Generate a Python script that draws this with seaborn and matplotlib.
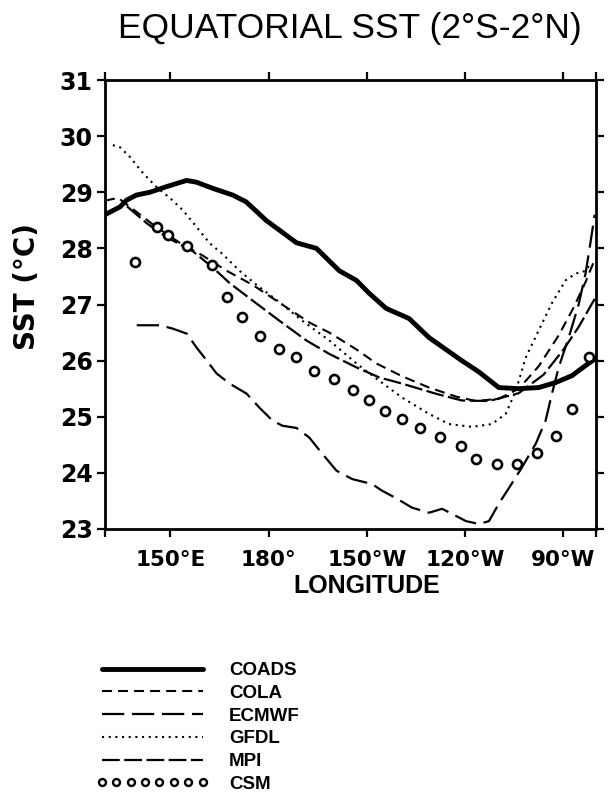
import matplotlib
matplotlib.use("Agg")
import matplotlib.pyplot as plt
import seaborn as sns

# Equatorial SST (2S-2N) along the Pacific, longitude in degrees east
coads_lon = [130.0, 134.6, 136.6, 139.6, 143.7, 148.8, 154.9, 157.9, 162.9, 169.0, 173.1,
             179.2, 188.5, 194.6, 201.6, 206.8, 210.7, 215.9, 222.9, 229.0, 239.0, 244.2,
             250.3, 256.4, 262.5, 267.7, 272.6, 277.7, 280.0]
coads_sst = [28.6, 28.74, 28.86, 28.95, 29.0, 29.1, 29.21, 29.18, 29.07, 28.95, 28.83,
             28.5, 28.1, 28.0, 27.6, 27.43, 27.2, 26.93, 26.75, 26.41, 26.0, 25.8,
             25.52, 25.5, 25.52, 25.61, 25.73, 25.95, 26.04]

cola_lon = [130.0, 134.0, 138.5, 145.2, 152.8, 159.9, 167.2, 175.1, 185.4, 192.4, 198.5,
            206.8, 212.9, 220.8, 229.0, 237.2, 243.3, 250.3, 256.4, 262.5, 268.6, 273.2,
            276.8, 279.6]
cola_sst = [28.85, 28.9, 28.7, 28.4, 28.1, 27.87, 27.6, 27.35, 26.95, 26.68, 26.5,
            26.2, 25.95, 25.72, 25.52, 25.36, 25.28, 25.32, 25.5, 25.9, 26.45, 26.95,
            27.4, 27.8]

ecmwf_lon = [139.7, 146.8, 150.7, 155.0, 158.0, 161.1, 164.1, 168.1, 173.3, 177.2, 181.2,
             184.2, 188.5, 192.4, 196.4, 200.7, 205.5, 211.6, 214.7, 218.9, 223.8, 229.0,
             233.0, 236.0, 240.3, 244.2, 247.3, 250.3, 253.4, 257.3, 261.6, 264.6, 266.5,
             268.6, 271.6, 274.7, 276.8, 278.3, 279.6]
ecmwf_sst = [26.63, 26.63, 26.57, 26.48, 26.23, 26.0, 25.77, 25.59, 25.41, 25.16, 24.93,
             24.84, 24.8, 24.63, 24.34, 24.04, 23.89, 23.8, 23.68, 23.55, 23.38, 23.29,
             23.36, 23.27, 23.14, 23.09, 23.14, 23.45, 23.73, 24.09, 24.52, 24.93, 25.4,
             25.88, 26.4, 27.0, 27.55, 28.1, 28.6]

gfdl_lon = [132.4, 134.6, 137.6, 141.6, 145.8, 149.8, 153.8, 158.0, 162.0, 165.9, 171.1,
            176.3, 183.3, 190.3, 198.5, 206.8, 213.8, 220.8, 229.0, 235.1, 242.1, 248.2,
            252.4, 255.5, 258.5, 262.5, 266.5, 270.7, 273.8, 276.8, 278.6]
gfdl_sst = [29.84, 29.8, 29.63, 29.34, 29.09, 28.9, 28.68, 28.38, 28.09, 27.9, 27.6,
            27.35, 27.04, 26.71, 26.36, 25.95, 25.64, 25.34, 25.05, 24.87, 24.82, 24.87,
            25.05, 25.46, 26.05, 26.54, 27.02, 27.43, 27.55, 27.6, 27.75]

mpi_lon = [136.7, 142.7, 148.8, 156.8, 162.9, 168.1, 175.1, 183.3, 191.5, 198.5, 206.8,
           213.8, 220.8, 231.1, 239.0, 247.3, 256.4, 264.0, 270.1, 274.7, 279.6]
mpi_sst = [28.75, 28.45, 28.2, 27.95, 27.66, 27.38, 27.07, 26.71, 26.36, 26.12, 25.88,
           25.7, 25.59, 25.41, 25.29, 25.28, 25.42, 25.75, 26.2, 26.6, 27.1]

csm_lon = [139.1, 145.8, 149.2, 155.0, 162.6, 167.2, 172.0, 177.5, 183.3, 188.5, 194.0,
           200.0, 205.8, 210.7, 215.6, 220.8, 226.3, 232.3, 238.7, 243.3, 249.7, 256.0,
           261.9, 267.7, 272.6, 278.0]
csm_sst = [27.75, 28.38, 28.23, 28.05, 27.7, 27.13, 26.77, 26.43, 26.2, 26.07, 25.82,
           25.68, 25.48, 25.29, 25.11, 24.96, 24.8, 24.64, 24.48, 24.25, 24.16, 24.16,
           24.36, 24.66, 25.14, 26.07]

x_ticks = [130, 150, 180, 210, 240, 270, 280]
x_tick_labels = ["", "150°E", "180°", "150°W", "120°W", "90°W", ""]
y_ticks = [23, 24, 25, 26, 27, 28, 29, 30, 31]

sns.set_style("ticks")
plt.rcParams["font.family"] = ["Liberation Sans", "DejaVu Sans"]
plt.rcParams["text.color"] = "black"
plt.rcParams["axes.labelcolor"] = "black"
plt.rcParams["xtick.color"] = "black"
plt.rcParams["ytick.color"] = "black"

fig = plt.figure(figsize=(6.08, 7.95), dpi=100)
ax = fig.add_axes([105 / 608, 1 - 529 / 795, 491 / 608, 449 / 795])

sns.lineplot(x=coads_lon, y=coads_sst, ax=ax, sort=False, color="black", lw=3.5,
             label="COADS")
sns.lineplot(x=cola_lon, y=cola_sst, ax=ax, sort=False, color="black", lw=1.5,
             linestyle=(0, (4.8, 2.9)), label="COLA")
sns.lineplot(x=ecmwf_lon, y=ecmwf_sst, ax=ax, sort=False, color="black", lw=1.6,
             linestyle=(0, (10, 3.5)), label="ECMWF")
sns.lineplot(x=gfdl_lon, y=gfdl_sst, ax=ax, sort=False, color="black", lw=1.5,
             linestyle=(0, (1, 2.2)), label="GFDL")
sns.lineplot(x=mpi_lon, y=mpi_sst, ax=ax, sort=False, color="black", lw=1.6,
             linestyle=(0, (8, 2)), label="MPI")
ax.plot(csm_lon, csm_sst, linestyle="none", marker="o", ms=6.5, mfc="white",
        mec="black", mew=1.9, label="CSM")

ax.set_xlim(130, 280)
ax.set_ylim(23, 31)
ax.set_xticks(x_ticks)
ax.set_xticklabels(x_tick_labels)
ax.set_yticks(y_ticks)

for s in ax.spines.values():
    s.set_linewidth(2)
    s.set_color("black")
ax.tick_params(axis="both", direction="out", length=6, width=1.6, color="black",
               labelcolor="black", top=True, right=True, labeltop=False,
               labelright=False)
ax.tick_params(axis="y", pad=3)
ax.tick_params(axis="x", pad=9)
for lab in ax.get_yticklabels():
    lab.set_family("DejaVu Sans")
    lab.set_fontweight("bold")
    lab.set_fontsize(17)
for lab in ax.get_xticklabels():
    lab.set_family("DejaVu Sans")
    lab.set_fontweight("bold")
    lab.set_fontsize(15.5)

ax.set_xlabel("LONGITUDE", fontsize=18, fontweight="bold", va="center")
ax.xaxis.set_label_coords((367 - 105) / 491, (529 - 586) / 449)
ax.set_ylabel("SST (°C)", fontsize=20, fontweight="bold", family="DejaVu Sans",
              va="center")
ax.yaxis.set_label_coords((27 - 105) / 491, (529 - 287) / 449)

fig.text(350 / 608, 1 - 38 / 795, "EQUATORIAL SST (2°S-2°N)", ha="center",
         va="baseline", fontsize=25.5)

handles, labels = ax.get_legend_handles_labels()
order = ["COADS", "COLA", "ECMWF", "GFDL", "MPI", "CSM"]
hl = dict(zip(labels, handles))
leg = ax.legend([hl[k] for k in order], order, loc="upper left",
                bbox_to_anchor=(96 / 608, 1 - 662 / 795), bbox_transform=fig.transFigure,
                frameon=False, borderpad=0, borderaxespad=0, handlelength=6.0,
                handletextpad=1.1, labelspacing=0.30, numpoints=8,
                prop={"weight": "bold", "size": 13.5})
csm_handle = leg.legend_handles[-1]
csm_handle.set_markersize(5)
csm_handle.set_markeredgewidth(1.7)

fig.savefig("out.png", dpi=100)
